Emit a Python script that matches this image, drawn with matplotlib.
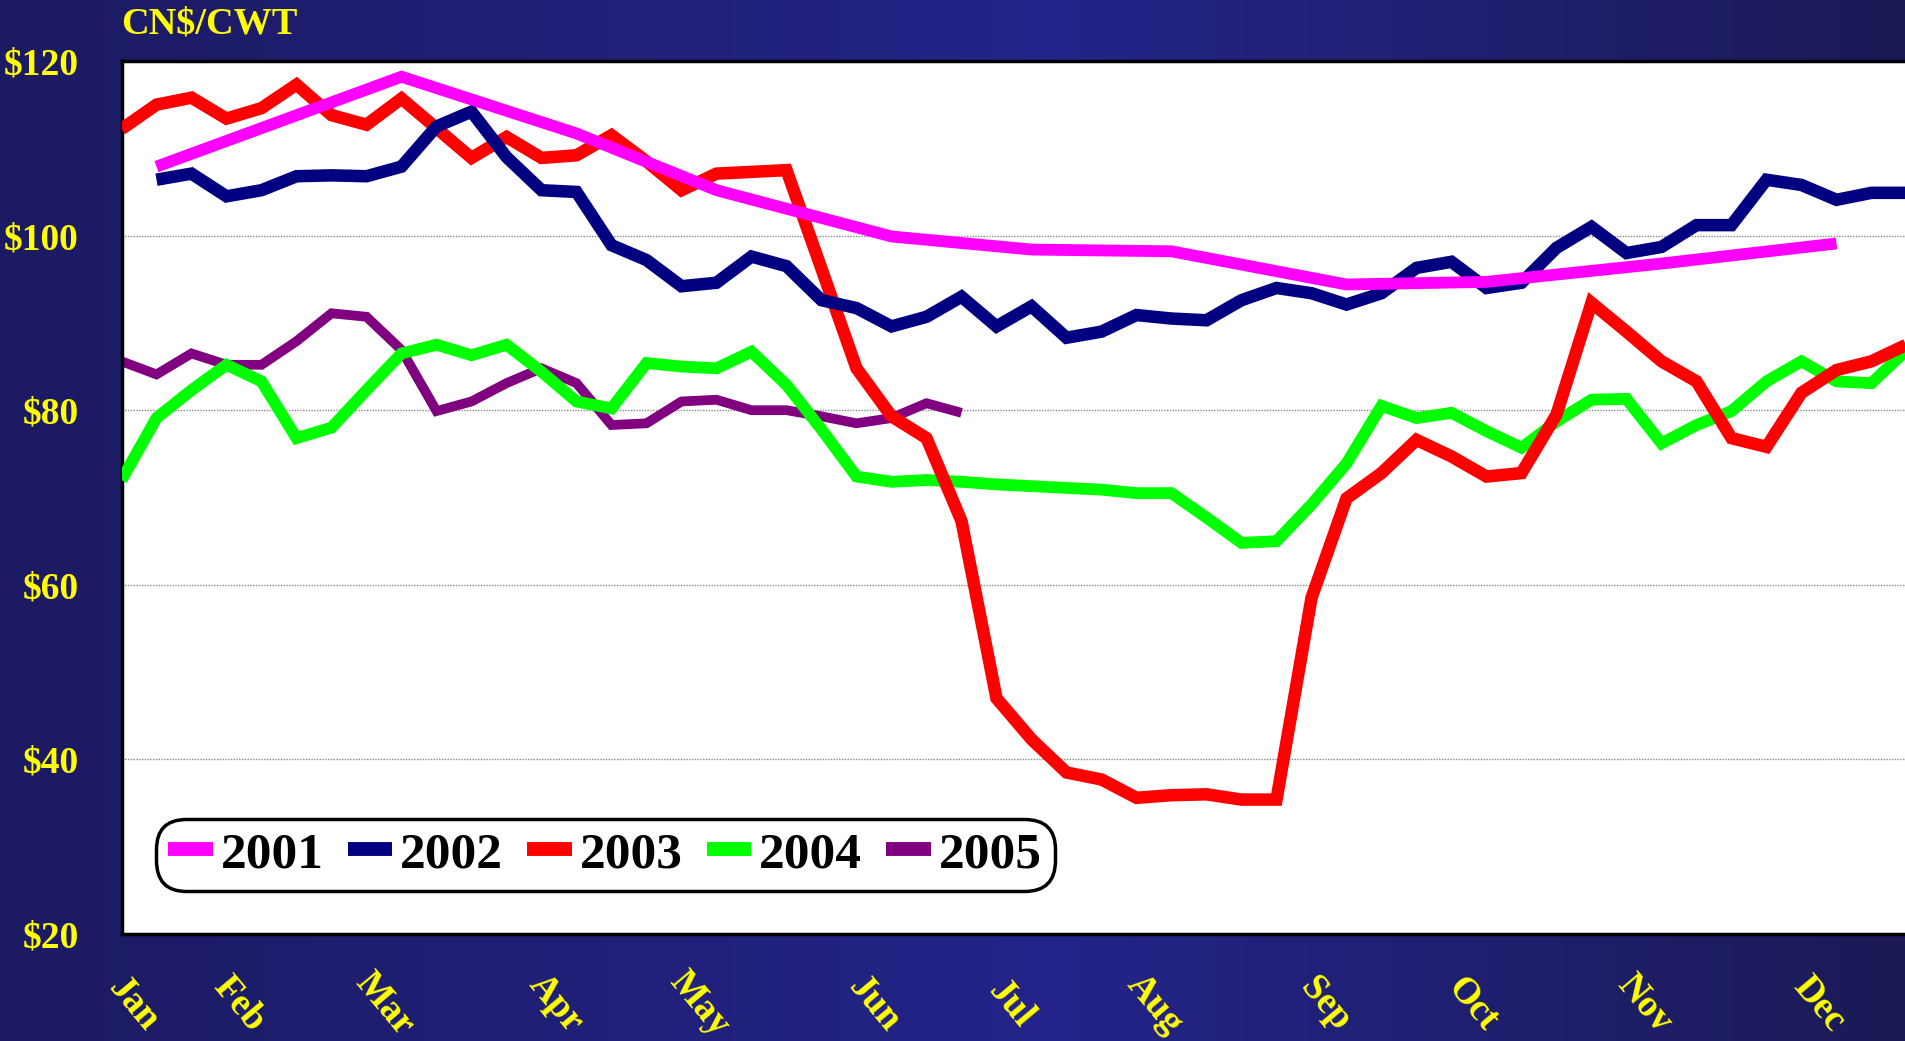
import numpy as np
import matplotlib
matplotlib.use("Agg")
from matplotlib import pyplot as plt

# weekly prices, CN$/CWT (week index 0 = first week of Jan)
weeks_2001 = [1, 8, 13, 17, 22, 26, 30, 35, 39, 44, 49]
price_2001 = [107.9, 118.2, 111.7, 105.2, 99.9, 98.4, 98.2, 94.4, 94.7, 96.8, 99.1]

weeks_2002 = list(range(1, 52))
price_2002 = [106.4, 107.1, 104.5, 105.2, 106.8, 106.9, 106.8, 107.9, 112.5, 114.2,
              109.0, 105.2, 105.0, 98.9, 97.2, 94.2, 94.6, 97.6, 96.5, 92.6,
              91.7, 89.6, 90.7, 93.0, 89.6, 91.9, 88.3, 89.0, 90.9, 90.5,
              90.3, 92.6, 94.0, 93.4, 92.1, 93.4, 96.3, 97.0, 94.0, 94.6,
              98.6, 101.0, 98.0, 98.7, 101.2, 101.2, 106.4, 105.8, 104.1, 104.9,
              104.9]

weeks_2003 = list(range(0, 52))
price_2003 = [112.2, 115.0, 115.8, 113.4, 114.6, 117.3, 113.8, 112.7, 115.7, 112.3,
              108.9, 111.3, 108.9, 109.2, 111.5, 108.5, 105.2, 107.1, 107.3, 107.5,
              96.2, 84.8, 79.3, 76.8, 67.3, 47.0, 42.3, 38.5, 37.7, 35.6,
              35.9, 36.0, 35.4, 35.4, 58.5, 69.9, 72.8, 76.6, 74.7, 72.4,
              72.8, 79.5, 92.3, 89.0, 85.6, 83.3, 76.8, 75.8, 82.0, 84.6,
              85.6, 87.5]

weeks_2004 = list(range(0, 52))
price_2004 = [72.0, 79.1, 82.3, 85.2, 83.3, 76.8, 78.0, 82.3, 86.5, 87.5,
              86.3, 87.5, 84.4, 81.0, 80.2, 85.4, 85.0, 84.8, 86.7, 82.9,
              77.8, 72.4, 71.8, 72.0, 71.8, 71.5, 71.3, 71.1, 70.9, 70.5,
              70.5, 67.7, 64.8, 65.0, 69.2, 73.9, 80.5, 79.1, 79.7, 77.6,
              75.7, 78.7, 81.2, 81.3, 76.2, 78.3, 79.9, 83.3, 85.6, 83.3,
              83.1, 86.9]

weeks_2005 = list(range(0, 25))
price_2005 = [85.6, 84.1, 86.5, 85.2, 85.2, 87.9, 91.1, 90.7, 86.9, 79.9,
              81.0, 83.1, 84.8, 83.1, 78.3, 78.5, 81.0, 81.2, 80.0, 80.0,
              79.3, 78.5, 79.1, 80.8, 79.7]

months = ["Jan", "Feb", "Mar", "Apr", "May", "Jun",
          "Jul", "Aug", "Sep", "Oct", "Nov", "Dec"]
month_pos = [0.33, 3.36, 7.5, 12.4, 16.5, 21.5, 25.4, 29.5, 34.4, 38.6, 43.5, 48.5]
y_ticks = [20, 40, 60, 80, 100, 120]

series = [
    ("2001", weeks_2001, price_2001, "#FF00FF", 8.5, 6),
    ("2002", weeks_2002, price_2002, "#000080", 9.0, 5),
    ("2003", weeks_2003, price_2003, "#FF0000", 9.0, 4),
    ("2004", weeks_2004, price_2004, "#00FF00", 8.5, 3),
    ("2005", weeks_2005, price_2005, "#800080", 7.0, 2),
]

serif = ["Liberation Serif", "DejaVu Serif"]
yellow = "#FFFF00"

fig = plt.figure(figsize=(19.05, 10.41), dpi=100)

# background gradient (dark edges, lighter middle)
bg = fig.add_axes([0, 0, 1, 1], zorder=-10)
bg.axis("off")
xs = np.linspace(0, 1, 400)
c_left = np.array([28, 26, 98]) / 255
c_mid = np.array([36, 36, 138]) / 255
c_right = np.array([27, 26, 86]) / 255
grad = np.zeros((2, len(xs), 3))
for k, t in enumerate(xs):
    if t < 0.55:
        c = c_left + (c_mid - c_left) * (t / 0.55)
    else:
        c = c_mid + (c_right - c_mid) * ((t - 0.55) / 0.45)
    grad[:, k, :] = c
bg.imshow(grad, aspect="auto", extent=[0, 1, 0, 1])

W, H = 1905, 1041
left, top, bottom = 121.5, 61, 934
step = 35.0
ax = fig.add_axes([left / W, (H - bottom) / H, 52 * step / W, (bottom - top) / H])
ax.set_facecolor("white")

for name, wk, pr, col, lw, z in series:
    ax.plot(wk, pr, color=col, lw=lw, label=name, zorder=z,
            solid_joinstyle="miter", solid_capstyle="butt")

ax.set_xlim(0, 52)
ax.set_ylim(20, 120)
ax.set_yticks(y_ticks)
ax.set_yticklabels(["\\$%d" % v for v in y_ticks], family=serif,
                   fontweight="bold", fontsize=27, color=yellow)
ax.tick_params(axis="y", length=0, pad=31)
ax.set_xticks([])
ax.yaxis.grid(True, color="#888888", lw=1.0, linestyle=(0, (1, 1)))
ax.set_axisbelow(True)
for s in ["left", "top", "bottom", "right"]:
    ax.spines[s].set_color("black")
    ax.spines[s].set_linewidth(2.5)

for m, p in zip(months, month_pos):
    ax.text(p, -0.08, m, transform=ax.get_xaxis_transform(), ha="center",
            va="center", rotation=-50, family=serif, fontweight="bold",
            fontsize=27, color=yellow, clip_on=False)

fig.text(left / W, 1 - 24 / H, "CN\\$/CWT", ha="left", va="center",
         family=serif, fontweight="bold", fontsize=27.5, color=yellow)

leg = ax.legend(loc="center", bbox_to_anchor=(0.2657, 0.0905), ncol=5,
                prop={"family": serif, "weight": "bold", "size": 37},
                handlelength=0.86, handletextpad=0.16, columnspacing=0.47,
                borderpad=0.15, borderaxespad=0, fancybox=True,
                framealpha=1, facecolor="white", edgecolor="black")
leg.get_frame().set_linewidth(2.5)
leg.get_frame().set_boxstyle("round,pad=0.1,rounding_size=0.6")
for ln in leg.get_lines():
    ln.set_linewidth(10)
leg.set_zorder(20)

fig.savefig("out.png", dpi=100)
